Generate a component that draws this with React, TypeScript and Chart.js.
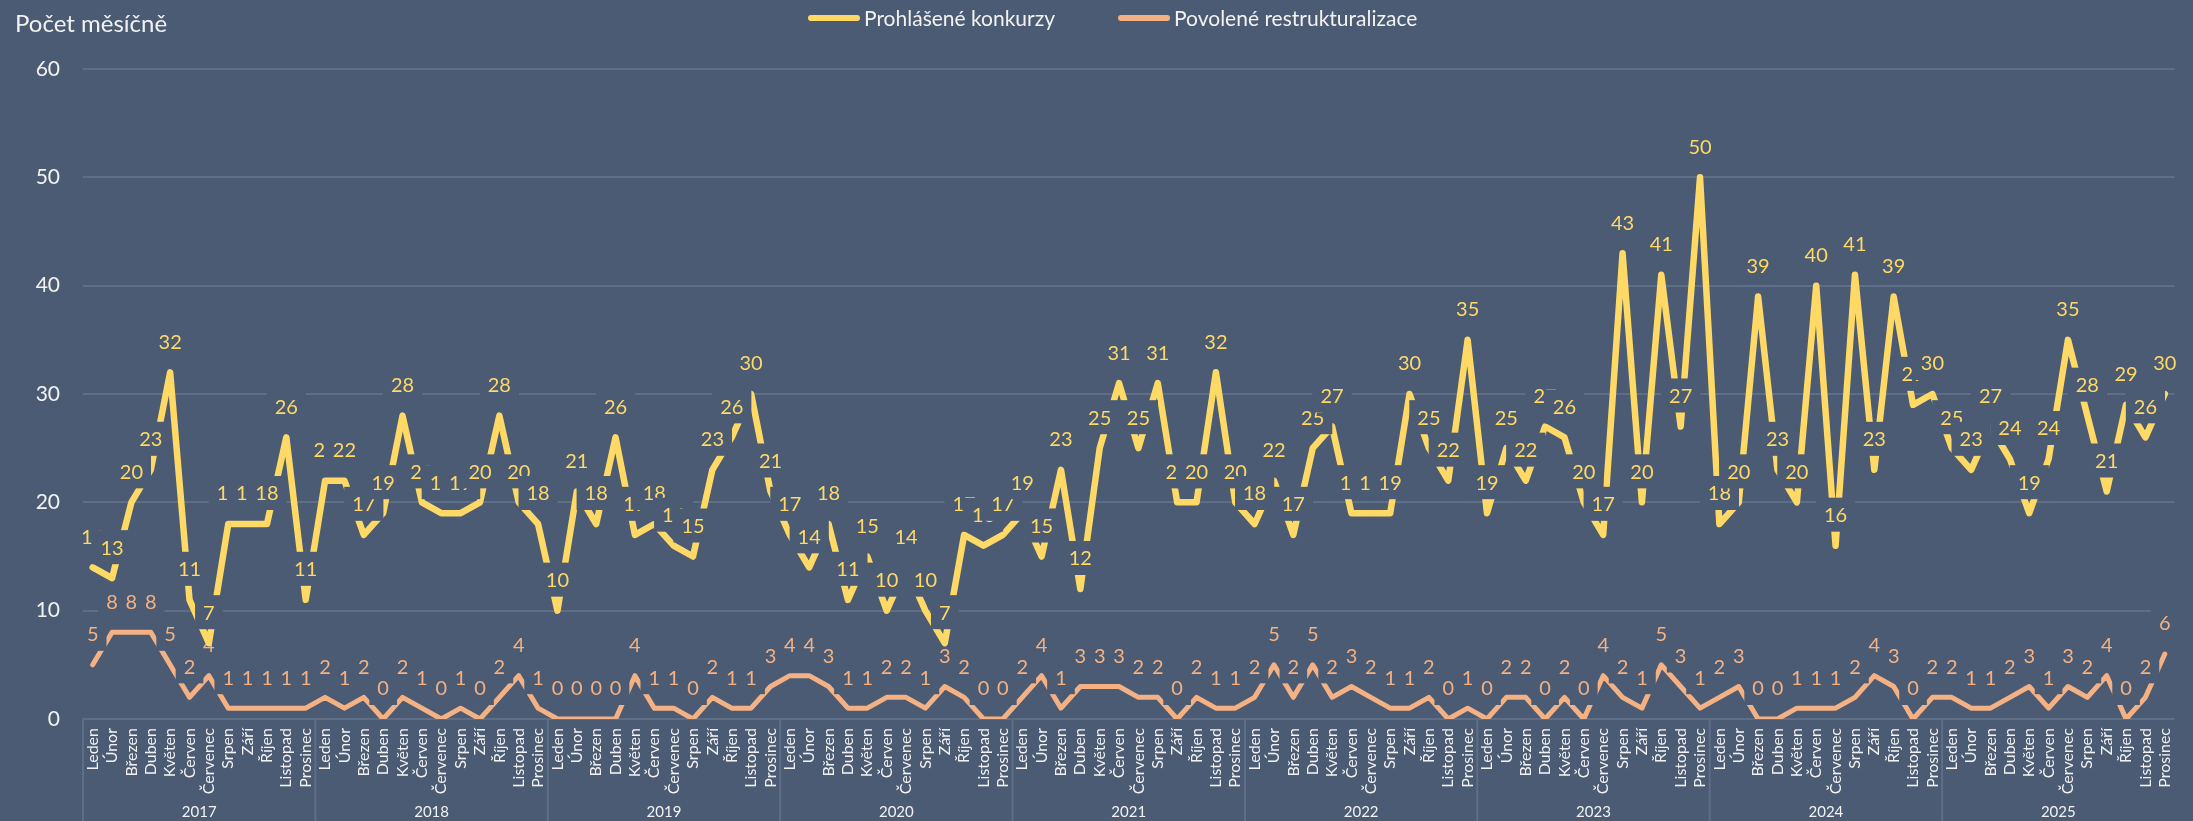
import React, { useEffect, useRef } from 'react';
import { Chart, registerables } from 'chart.js';

Chart.register(...registerables);

const months = ['Leden', 'Únor', 'Březen', 'Duben', 'Květen', 'Červen', 'Červenec', 'Srpen', 'Září', 'Říjen', 'Listopad', 'Prosinec'];
const years = ['2017', '2018', '2019', '2020', '2021', '2022', '2023', '2024', '2025'];

const konkurzy = [
  14, 13, 20, 23, 32, 11, 7, 18, 18, 18, 26, 11,
  22, 22, 17, 19, 28, 20, 19, 19, 20, 28, 20, 18,
  10, 21, 18, 26, 17, 18, 16, 15, 23, 26, 30, 21,
  17, 14, 18, 11, 15, 10, 14, 10, 7, 17, 16, 17,
  19, 15, 23, 12, 25, 31, 25, 31, 20, 20, 32, 20,
  18, 22, 17, 25, 27, 19, 19, 19, 30, 25, 22, 35,
  19, 25, 22, 27, 26, 20, 17, 43, 20, 41, 27, 50,
  18, 20, 39, 23, 20, 40, 16, 41, 23, 39, 29, 30,
  25, 23, 27, 24, 19, 24, 35, 28, 21, 29, 26, 30,
];

const restrukturalizace = [
  5, 8, 8, 8, 5, 2, 4, 1, 1, 1, 1, 1,
  2, 1, 2, 0, 2, 1, 0, 1, 0, 2, 4, 1,
  0, 0, 0, 0, 4, 1, 1, 0, 2, 1, 1, 3,
  4, 4, 3, 1, 1, 2, 2, 1, 3, 2, 0, 0,
  2, 4, 1, 3, 3, 3, 2, 2, 0, 2, 1, 1,
  2, 5, 2, 5, 2, 3, 2, 1, 1, 2, 0, 1,
  0, 2, 2, 0, 2, 0, 4, 2, 1, 5, 3, 1,
  2, 3, 0, 0, 1, 1, 1, 2, 4, 3, 0, 2,
  2, 1, 1, 2, 3, 1, 3, 2, 4, 0, 2, 6,
];

const seriesNames = ['Prohlášené konkurzy', 'Povolené restrukturalizace'];
const axisTitle = 'Počet měsíčně';

const W = 2193;
const H = 821;
const BG = '#4b5b73';
const GRID = '#5f6e87';
const YELLOW = '#FFD966';
const ORANGE = '#F4B183';
const TEXT = '#F2F2F2';
const FONT = 'Lato, "Open Sans", sans-serif';

const categoryLabels = years.flatMap(() => months);

const valueLabels = {
  id: 'valueLabels',
  afterDatasetDraw(chart: any, args: any) {
    const { ctx } = chart;
    const meta = args.meta;
    const ds = chart.data.datasets[args.index];
    ctx.save();
    ctx.font = `20px ${FONT}`;
    ctx.textAlign = 'center';
    ctx.textBaseline = 'middle';
    meta.data.forEach((pt: any, i: number) => {
      const txt = String(ds.data[i]);
      const w = ctx.measureText(txt).width;
      const cx = pt.x;
      const cy = pt.y - 31;
      ctx.fillStyle = BG;
      ctx.fillRect(cx - w / 2 - 8, cy - 17, w + 16, 34);
      ctx.fillStyle = ds.borderColor;
      ctx.fillText(txt, cx, cy + 1);
    });
    ctx.restore();
  },
};

const decorations = {
  id: 'decorations',
  beforeDraw(chart: any) {
    const { ctx } = chart;
    ctx.save();
    ctx.fillStyle = BG;
    ctx.fillRect(0, 0, chart.width, chart.height);
    ctx.restore();
  },
  afterDraw(chart: any) {
    const { ctx, chartArea } = chart;
    const xs = chart.scales.x;
    ctx.save();
    // title
    ctx.fillStyle = TEXT;
    ctx.font = `24px ${FONT}`;
    ctx.textAlign = 'left';
    ctx.textBaseline = 'alphabetic';
    ctx.fillText(axisTitle, 15, 32);

    // legend
    const colors = [YELLOW, ORANGE];
    let lx = 808;
    const ly = 18;
    ctx.font = `21px ${FONT}`;
    ctx.textBaseline = 'middle';
    seriesNames.forEach((name, i) => {
      ctx.strokeStyle = colors[i];
      ctx.lineWidth = 6;
      ctx.lineCap = 'round';
      ctx.beginPath();
      ctx.moveTo(lx + 3, ly);
      ctx.lineTo(lx + 49, ly);
      ctx.stroke();
      lx += 56;
      ctx.fillStyle = TEXT;
      ctx.fillText(name, lx, ly + 1);
      lx += ctx.measureText(name).width + 63;
    });

    // year groups
    const step = xs.getPixelForValue(1) - xs.getPixelForValue(0);
    ctx.strokeStyle = GRID;
    ctx.lineWidth = 2;
    ctx.font = `15px ${FONT}`;
    ctx.textAlign = 'center';
    ctx.fillStyle = TEXT;
    years.forEach((yr, k) => {
      const start = xs.getPixelForValue(12 * k) - step / 2;
      const end = xs.getPixelForValue(12 * k + 11) + step / 2;
      ctx.beginPath();
      ctx.moveTo(start, chartArea.bottom);
      ctx.lineTo(start, H);
      ctx.stroke();
      ctx.fillText(yr, (start + end) / 2, 812);
    });
    ctx.restore();
  },
};

export default function App() {
  const ref = useRef<HTMLCanvasElement | null>(null);

  useEffect(() => {
    document.body.style.margin = '0';
    document.body.style.background = BG;
    const canvas = ref.current;
    if (!canvas) return;
    const chart = new Chart(canvas, {
      type: 'line',
      data: {
        labels: categoryLabels,
        datasets: [
          {
            label: seriesNames[0],
            data: konkurzy,
            borderColor: YELLOW,
            backgroundColor: YELLOW,
            borderWidth: 6.5,
            borderJoinStyle: 'round',
            borderCapStyle: 'round',
            pointRadius: 0,
            tension: 0,
          },
          {
            label: seriesNames[1],
            data: restrukturalizace,
            borderColor: ORANGE,
            backgroundColor: ORANGE,
            borderWidth: 5,
            borderJoinStyle: 'round',
            borderCapStyle: 'round',
            pointRadius: 0,
            tension: 0,
          },
        ],
      },
      options: {
        responsive: false,
        animation: false,
        devicePixelRatio: 1,
        layout: { padding: { top: 69, right: 0, bottom: 0, left: 0 } },
        plugins: {
          legend: { display: false },
          title: { display: false },
          tooltip: { enabled: false },
        },
        scales: {
          x: {
            type: 'category',
            offset: true,
            grid: { display: false, drawTicks: false },
            border: { display: false },
            ticks: {
              autoSkip: false,
              maxRotation: 90,
              minRotation: 90,
              padding: 9,
              color: TEXT,
              font: { family: FONT, size: 16 },
            },
            afterFit: (scale: any) => {
              scale.height = 102;
            },
          },
          y: {
            min: 0,
            max: 60,
            ticks: {
              stepSize: 10,
              padding: 23,
              color: TEXT,
              font: { family: FONT, size: 21 },
            },
            grid: { color: GRID, lineWidth: 2, drawTicks: false },
            border: { display: false },
            afterFit: (scale: any) => {
              scale.width = 83;
            },
          },
        },
      },
      plugins: [valueLabels, decorations],
    } as any);
    return () => chart.destroy();
  }, []);

  return (
    <div style={{ width: W, height: H, background: BG }}>
      <canvas ref={ref} width={W} height={H} style={{ display: 'block', width: W, height: H }} />
    </div>
  );
}
